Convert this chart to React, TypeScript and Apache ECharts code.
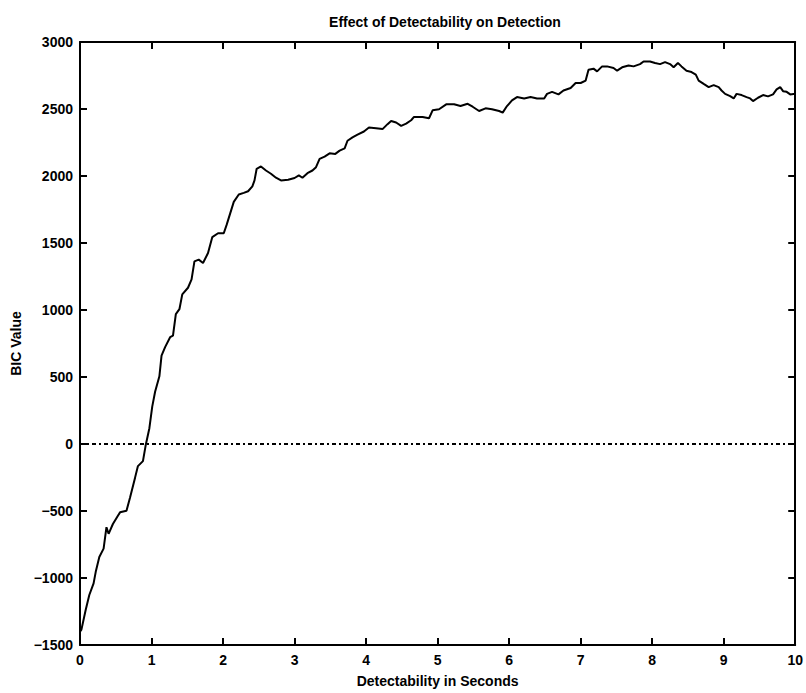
import React, { useEffect, useRef } from "react";
import * as echarts from "echarts";

const titleText = "Effect of Detectability on Detection";
const xAxisTitle = "Detectability in Seconds";
const yAxisTitle = "BIC Value";

const xValues = [
  0.0, 0.02, 0.08, 0.13, 0.19, 0.22, 0.27, 0.33, 0.37, 0.4, 0.46, 0.53, 0.56, 0.65, 0.7, 0.77, 0.81, 0.88, 0.92, 0.97,
  1.01, 1.05, 1.11, 1.14, 1.19, 1.26, 1.3, 1.34, 1.39, 1.43, 1.51, 1.56, 1.6, 1.66, 1.72, 1.79, 1.85, 1.93, 2.01, 2.05,
  2.1, 2.15, 2.22, 2.29, 2.35, 2.41, 2.44, 2.47, 2.53, 2.6, 2.67, 2.74, 2.81, 2.91, 3.0, 3.06, 3.11, 3.18, 3.25, 3.3,
  3.35, 3.42, 3.49, 3.57, 3.63, 3.7, 3.74, 3.81, 3.88, 3.97, 4.04, 4.14, 4.23, 4.3, 4.35, 4.42, 4.49, 4.56, 4.63, 4.67,
  4.79, 4.88, 4.93, 5.02, 5.12, 5.23, 5.32, 5.42, 5.49, 5.58, 5.67, 5.76, 5.86, 5.91, 5.97, 6.04, 6.11, 6.21, 6.3, 6.39,
  6.49, 6.53, 6.6, 6.69, 6.76, 6.86, 6.93, 7.0, 7.07, 7.11, 7.18, 7.23, 7.3, 7.37, 7.46, 7.51, 7.58, 7.67, 7.74, 7.83,
  7.88, 7.97, 8.04, 8.11, 8.18, 8.25, 8.3, 8.36, 8.41, 8.48, 8.55, 8.61, 8.65, 8.72, 8.79, 8.86, 8.93, 8.97, 9.02, 9.09,
  9.14, 9.18, 9.25, 9.32, 9.37, 9.41, 9.48, 9.55, 9.62, 9.69, 9.74, 9.79, 9.83, 9.88, 9.93, 10.0,
];

const bicValues = [
  -1400, -1385, -1237, -1127, -1040, -954, -843, -781, -621, -670, -597, -535, -510, -498, -400, -251, -165, -128, -5, 118,
  279, 390, 505, 660, 723, 797, 808, 969, 1006, 1117, 1166, 1228, 1363, 1376, 1351, 1425, 1544, 1573, 1573, 1635,
  1721, 1807, 1862, 1874, 1886, 1923, 1967, 2054, 2071, 2041, 2017, 1987, 1967, 1972, 1985, 2004, 1987, 2021, 2041, 2066,
  2128, 2145, 2169, 2165, 2189, 2206, 2263, 2288, 2308, 2332, 2362, 2357, 2350, 2387, 2411, 2399, 2374, 2391, 2416, 2441,
  2441, 2431, 2490, 2498, 2535, 2535, 2522, 2539, 2517, 2485, 2505, 2498, 2485, 2473, 2522, 2564, 2589, 2579, 2589, 2579,
  2579, 2613, 2628, 2609, 2638, 2657, 2694, 2694, 2712, 2793, 2801, 2781, 2818, 2818, 2806, 2786, 2811, 2825, 2818, 2835,
  2855, 2855, 2843, 2835, 2850, 2835, 2811, 2843, 2818, 2786, 2776, 2757, 2712, 2687, 2663, 2678, 2663, 2638, 2613, 2596,
  2579, 2613, 2604, 2589, 2579, 2559, 2584, 2604, 2594, 2609, 2646, 2663, 2633, 2628, 2609, 2613,
];

const referenceLevel = [0];

const FONT = "'Liberation Sans', Arial, sans-serif";

export default function App() {
  const ref = useRef<HTMLDivElement>(null);
  useEffect(() => {
    if (!ref.current) return;
    const chart = echarts.init(ref.current, undefined, { renderer: "svg" });
    const data = xValues.map((x, i) => [x, bicValues[i]]);
    const axisLine = { show: true, onZero: false, lineStyle: { color: "#000", width: 2 } };
    const axisTick = { show: true, inside: true, length: 7, lineStyle: { color: "#000", width: 2 } };
    const labelStyle = { color: "#000", fontFamily: FONT, fontWeight: "bold" as const, fontSize: 14 };
    chart.setOption({
      animation: false,
      backgroundColor: "#fff",
      title: {
        text: titleText,
        left: 440,
        textAlign: "center",
        top: 10,
        textStyle: { color: "#000", fontFamily: FONT, fontWeight: "bold", fontSize: 14 },
      },
      grid: { left: 80, right: 9, top: 42, bottom: 45, containLabel: false },
      xAxis: [
        {
          type: "value",
          min: 0,
          max: 10,
          interval: 1,
          position: "bottom",
          name: xAxisTitle,
          nameLocation: "middle",
          nameGap: 29,
          nameTextStyle: labelStyle,
          axisLine,
          axisTick,
          axisLabel: { ...labelStyle, margin: 8 },
          splitLine: { show: false },
        },
        {
          type: "value",
          min: 0,
          max: 10,
          interval: 1,
          position: "top",
          axisLine,
          axisTick,
          axisLabel: { show: false },
          splitLine: { show: false },
        },
      ],
      yAxis: [
        {
          type: "value",
          min: -1500,
          max: 3000,
          interval: 500,
          position: "left",
          name: yAxisTitle,
          nameLocation: "middle",
          nameGap: 56,
          nameTextStyle: labelStyle,
          axisLine,
          axisTick,
          axisLabel: {
            ...labelStyle,
            margin: 7,
            formatter: (v: number) => String(v).replace("-", "\u2212"),
          },
          splitLine: { show: false },
        },
        {
          type: "value",
          min: -1500,
          max: 3000,
          interval: 500,
          position: "right",
          axisLine,
          axisTick,
          axisLabel: { show: false },
          splitLine: { show: false },
        },
      ],
      series: [
        {
          type: "line",
          data,
          xAxisIndex: 0,
          yAxisIndex: 0,
          symbol: "none",
          lineStyle: { color: "#000", width: 2 },
          markLine: {
            silent: true,
            symbol: "none",
            label: { show: false },
            lineStyle: { color: "#000", width: 2, type: [4, 3, 2, 3] },
            data: referenceLevel.map((v) => ({ yAxis: v })),
          },
        },
      ],
    });
    return () => chart.dispose();
  }, []);
  return (
    <div
      ref={ref}
      style={{ position: "fixed", left: 0, top: 0, width: 806, height: 693, background: "#fff" }}
    />
  );
}
